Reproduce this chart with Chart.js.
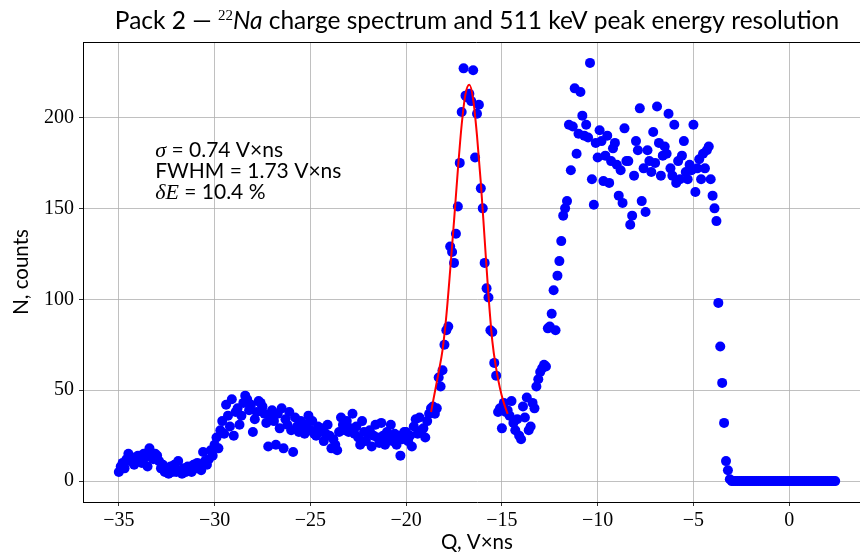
<!DOCTYPE html>
<html lang="en">
<head>
  <meta charset="UTF-8" />
  <title>Pack 2 - 22Na charge spectrum</title>
  <script src="https://cdn.jsdelivr.net/npm/chart.js"></script>
  <style>
    html, body { margin: 0; padding: 0; background: #fff; overflow: hidden; }
    canvas { display: block; }
  </style>
</head>
<body>
  <canvas id="chart" width="880" height="556"></canvas>

  <script>
    // histogram bins: first bin centre and bin width (V x ns)
    const binStart = -35.0;
    const binWidth = 0.1;

    // counts per bin, 10 bins per row, starting at -35.0
    const counts = [
      5, 8, 10, 7, 12, 15, 11, 13, 9, 12,
      14, 11, 10, 15, 13, 8, 18, 14, 12, 15,
      14, 11, 7, 9, 5, 6, 4, 8, 5, 9,
      5, 11, 6, 4, 7, 5, 8, 6, 5, 9,
      7, 10, 8, 6, 16, 11, 9, 12, 17, 14,
      20, 24, 18, 28, 33, 26, 42, 36, 30, 45,
      25, 38, 40, 31, 36, 43, 47, 45, 39, 42,
      27, 34, 38, 44, 43, 41, 37, 32, 19, 35,
      39, 33, 20, 37, 29, 40, 18, 34, 31, 38,
      28, 16, 35, 30, 27, 33, 29, 26, 31, 36,
      28, 33, 26, 25, 30, 27, 29, 22, 26, 31,
      25, 18, 23, 20, 17, 27, 35, 31, 28, 33,
      27, 29, 37, 26, 30, 24, 20, 33, 27, 22,
      26, 28, 19, 25, 31, 24, 21, 32, 25, 20,
      27, 24, 31, 22, 26, 20, 25, 14, 23, 27,
      27, 22, 25, 19, 30, 34, 26, 35, 28, 29,
      24, 33, 37, 40, 41, 37, 40, 57, 52, 61,
      75, 83, 85, 129, 126, 120, 136, 151, 175, 203,
      227, 212, 211, 213, 209, 226, 178, 202, 207, 161,
      150, 120, 106, 101, 83, 82, 65, 58, 38, 40,
      29, 43, 38, 39, 36, 44, 32, 28, 34, 25,
      23, 41, 35, 46, 28, 30, 43, 40, 52, 56,
      60, 62, 64, 63, 84, 85, 92, 105, 83, 113,
      121, 132, 146, 150, 154, 196, 171, 195, 216, 180,
      191, 214, 201, 190, 196, 189, 230, 166, 152, 186,
      178, 193, 187, 165, 179, 190, 164, 176, 183, 186,
      174, 157, 171, 153, 194, 176, 176, 141, 146, 168,
      187, 182, 205, 154, 172, 148, 182, 176, 170, 192,
      175, 206, 186, 168, 179, 184, 180, 202, 172, 168,
      196, 164, 176, 166, 179, 187, 170, 166, 174, 171,
      196, 159, 172, 177, 166, 180, 172, 182, 184, 166,
      157, 150, 143, 98, 74, 54, 32, 11, 6, 1,
      0, 0, 0, 0, 0, 0, 0, 0, 0, 0,
      0, 0, 0, 0, 0, 0, 0, 0, 0, 0,
      0, 0, 0, 0, 0, 0, 0, 0, 0, 0,
      0, 0, 0, 0, 0, 0, 0, 0, 0, 0,
      0, 0, 0, 0, 0, 0, 0, 0, 0, 0,
      0, 0, 0, 0, 0
    ];

    // gaussian fit of the 511 keV peak
    const fitQ = [-18.7, -18.5, -18.3, -18.1, -17.9, -17.7, -17.5, -17.3, -17.1, -16.9, -16.7,
                  -16.5, -16.3, -16.1, -15.9, -15.7, -15.5, -15.3, -15.1, -14.9, -14.7];
    const fitN = [38, 49, 60, 72, 91, 116, 143, 171, 196, 213, 218,
                  210, 190, 164, 133, 102, 77, 62, 51, 43, 37];

    const xTicks = [-35, -30, -25, -20, -15, -10, -5, 0];
    const yTicks = [0, 50, 100, 150, 200];

    const sigma = '0.74';
    const fwhm = '1.73';
    const dE = '10.4';

    const SANS = 'Lato';
    const SERIF = 'Liberation Serif';

    const spectrum = counts.map((n, i) => ({ x: +(binStart + i * binWidth).toFixed(1), y: n }));
    const fitLine = fitQ.map((q, i) => ({ x: q, y: fitN[i] }));

    function minusLabel(v) {
      return v < 0 ? '\u2212' + Math.abs(v) : String(v);
    }

    // draw a row of differently styled text pieces
    function drawRuns(ctx, runs, x, y, align) {
      let w = 0;
      runs.forEach(r => { ctx.font = r.font; w += ctx.measureText(r.text).width; });
      let cx = align === 'center' ? x - w / 2 : x;
      runs.forEach(r => {
        ctx.font = r.font;
        ctx.fillText(r.text, cx, y + (r.dy || 0));
        cx += ctx.measureText(r.text).width;
      });
    }

    const decorations = {
      id: 'decorations',
      afterDraw(chart) {
        const ctx = chart.ctx;
        const a = chart.chartArea;
        const xs = chart.scales.x, ys = chart.scales.y;
        ctx.save();

        // top and right spines
        ctx.strokeStyle = '#000';
        ctx.lineWidth = 1;
        ctx.beginPath();
        ctx.moveTo(a.left, a.top + 0.5);
        ctx.lineTo(a.right - 0.5, a.top + 0.5);
        ctx.lineTo(a.right - 0.5, a.bottom);
        ctx.stroke();

        ctx.fillStyle = '#000';
        ctx.textBaseline = 'alphabetic';

        // title
        drawRuns(ctx, [
          { text: 'Pack 2 \u2014 ', font: `24.5px ${SANS}` },
          { text: '22', font: `15px ${SERIF}`, dy: -9 },
          { text: 'Na', font: `italic 24.5px ${SANS}` },
          { text: ' charge spectrum and 511 keV peak energy resolution', font: `24.5px ${SANS}` }
        ], (a.left + a.right) / 2, 29, 'center');

        // fit results
        const tx = xs.getPixelForValue(-33.1);
        const ty = ys.getPixelForValue(178);
        drawRuns(ctx, [
          { text: '\u03c3', font: `italic 22px ${SERIF}` },
          { text: ' = ' + sigma + ' V\u00d7ns', font: `21px ${SANS}` }
        ], tx, ty);
        drawRuns(ctx, [
          { text: 'FWHM = ' + fwhm + ' V\u00d7ns', font: `21px ${SANS}` }
        ], tx, ty + 21);
        drawRuns(ctx, [
          { text: '\u03b4E', font: `italic 22px ${SERIF}` },
          { text: ' = ' + dE + ' %', font: `21px ${SANS}` }
        ], tx, ty + 42);

        ctx.restore();
      }
    };

    const ctx = document.getElementById('chart').getContext('2d');
    const chart = new Chart(ctx, {
      type: 'scatter',
      data: {
        datasets: [
          {
            label: 'fit',
            data: fitLine,
            showLine: true,
            borderColor: '#ff0000',
            borderWidth: 2,
            pointRadius: 0,
            cubicInterpolationMode: 'monotone',
            order: 0
          },
          {
            label: 'spectrum',
            data: spectrum,
            backgroundColor: '#0000ff',
            borderWidth: 0,
            pointRadius: 5,
            order: 1
          }
        ]
      },
      options: {
        responsive: false,
        animation: false,
        devicePixelRatio: 1,
        layout: { padding: { top: 42, right: 9, left: 0, bottom: 0 } },
        plugins: {
          legend: { display: false },
          tooltip: { enabled: false }
        },
        scales: {
          x: {
            type: 'linear',
            min: -36.87,
            max: 4.27,
            afterBuildTicks: s => { s.ticks = xTicks.map(v => ({ value: v })); },
            afterFit: s => { s.height = 54; },
            ticks: {
              callback: minusLabel,
              font: { family: SERIF, size: 20 },
              color: '#000',
              padding: 3,
              maxRotation: 0,
              autoSkip: false
            },
            grid: { color: '#b0b0b0', lineWidth: 0.8, tickLength: 4, tickColor: '#000' },
            border: { color: '#000', width: 1 },
            title: {
              display: true,
              text: 'Q, V\u00d7ns',
              font: { family: SANS, size: 20.5 },
              color: '#000',
              padding: { top: 0, bottom: 1 }
            }
          },
          y: {
            type: 'linear',
            min: -11.5,
            max: 241.5,
            afterBuildTicks: s => { s.ticks = yTicks.map(v => ({ value: v })); },
            afterFit: s => { s.width = 83; },
            ticks: {
              font: { family: SERIF, size: 20 },
              color: '#000',
              padding: 5
            },
            grid: { color: '#b0b0b0', lineWidth: 0.8, tickLength: 4, tickColor: '#000' },
            border: { color: '#000', width: 1 },
            title: {
              display: true,
              text: 'N, counts',
              font: { family: SANS, size: 20.5 },
              color: '#000',
              padding: { top: 9, bottom: 0 }
            }
          }
        }
      },
      plugins: [decorations]
    });
  </script>
</body>
</html>
